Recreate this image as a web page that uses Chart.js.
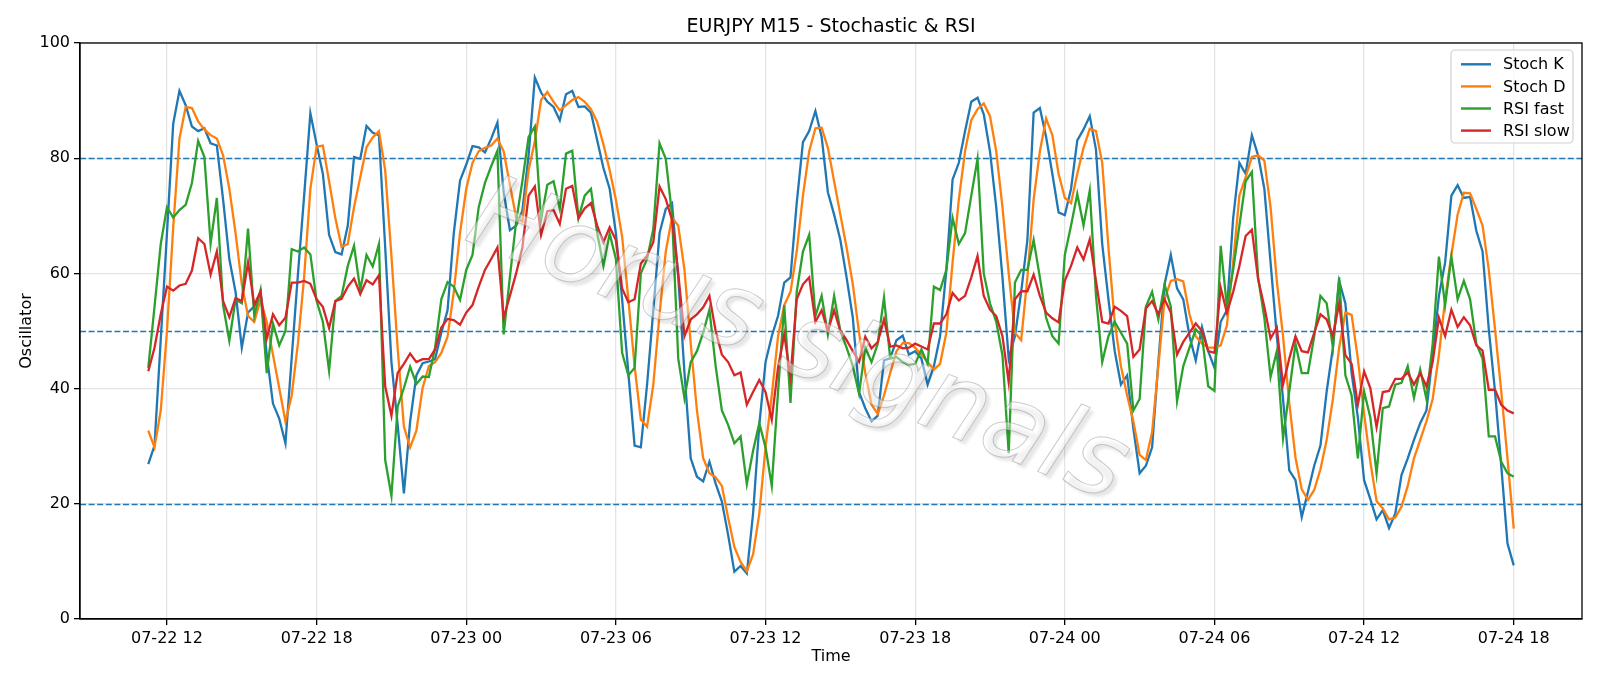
<!DOCTYPE html>
<html>
<head>
<meta charset="utf-8">
<script src="https://cdn.jsdelivr.net/npm/chart.js@4.4.0/dist/chart.umd.min.js"></script>
<style>
    html, body { margin: 0; padding: 0; background: #fff; }
    canvas { display: block; }
</style>
</head>
<body>
<canvas id="chart" width="1600" height="686"></canvas>
<script>
// M15 bars, hours counted from 07-22 00:00 (first bar 07-22 11:15)
const startHour = 11.25;
const stepHour = 0.25;

const stochK = [
    26.9, 30.1, 48.5, 67.0, 86.0, 91.7, 89.2, 85.5, 84.7, 85.2, 82.6, 82.2, 72.8, 62.5, 56.8, 47.1, 53.2, 54.3, 56.8, 45.9,
    37.4, 34.8, 30.5, 45.3, 59.8, 73.5, 87.8, 82.4, 77.3, 66.7, 63.7, 63.3, 68.3, 80.2, 79.9, 85.6, 84.4, 84.0, 64.5, 44.6,
    33.7, 21.8, 34.3, 42.3, 44.4, 44.7, 45.1, 49.7, 53.6, 67.0, 76.1, 78.9, 82.1, 81.9, 81.0, 83.4, 86.2, 74.1, 67.5, 68.3,
    70.9, 80.5, 94.0, 91.4, 89.8, 88.9, 86.6, 91.1, 91.7, 88.9, 89.0, 87.9, 83.1, 78.3, 74.7, 67.0, 55.5, 42.7, 30.1, 29.8,
    40.7, 53.6, 67.0, 71.2, 72.2, 59.4, 42.7, 27.9, 24.7, 23.9, 27.3, 23.5, 20.4, 14.6, 8.2, 9.2, 7.9, 18.3, 33.7, 44.6,
    49.1, 52.6, 58.4, 59.3, 72.2, 82.8, 84.7, 88.2, 83.7, 74.1, 70.2, 65.8, 59.3, 52.3, 39.4, 36.6, 34.3, 35.3, 44.9, 45.3,
    48.4, 49.2, 45.9, 46.5, 45.2, 40.7, 43.9, 49.1, 60.6, 76.3, 79.2, 84.7, 89.8, 90.5, 87.6, 81.2, 71.5, 59.3, 45.2, 49.1,
    56.8, 65.8, 87.9, 88.7, 83.7, 77.3, 70.6, 70.1, 74.7, 83.1, 85.0, 87.3, 81.5, 65.1, 55.5, 46.5, 40.7, 42.3, 33.0, 25.3,
    26.6, 29.8, 44.6, 58.1, 63.2, 57.4, 55.5, 49.1, 44.9, 50.7, 46.5, 43.6, 51.6, 53.6, 69.6, 79.2, 77.3, 84.0, 80.5, 74.7,
    61.9, 49.1, 38.2, 25.8, 24.1, 17.7, 22.1, 26.6, 30.1, 39.5, 47.1, 58.7, 54.8, 42.7, 35.0, 24.1, 20.8, 17.3, 18.9, 15.8,
    18.3, 25.0, 27.9, 31.1, 34.0, 36.2, 45.8, 56.1, 61.9, 73.5, 75.3, 73.1, 73.3, 67.4, 63.8, 50.3, 39.5, 26.6, 13.1, 9.3
];

const stochD = [
    32.7, 29.8, 36.2, 50.0, 68.0, 83.4, 88.9, 88.7, 86.4, 85.0, 84.0, 83.4, 80.5, 74.7, 67.0, 58.1, 52.6, 51.6, 55.5, 51.6,
    45.9, 40.1, 34.3, 38.8, 47.8, 59.4, 74.7, 82.0, 82.2, 76.0, 69.6, 64.6, 65.1, 71.5, 76.7, 81.9, 83.6, 84.7, 77.9, 63.0,
    47.0, 33.4, 29.8, 32.7, 40.1, 43.9, 44.6, 46.2, 49.0, 56.8, 67.0, 74.7, 79.2, 81.2, 81.8, 82.2, 83.4, 81.2, 75.4, 69.7,
    69.0, 77.9, 83.0, 90.1, 91.5, 89.8, 88.3, 89.2, 90.1, 90.6, 89.8, 88.5, 86.3, 82.4, 77.9, 72.8, 66.4, 55.5, 43.9, 34.6,
    33.4, 40.7, 52.9, 63.8, 69.7, 68.3, 60.6, 47.8, 36.2, 27.9, 25.3, 24.6, 23.1, 17.6, 12.5, 9.9, 8.3, 11.2, 18.3, 29.8,
    38.8, 49.0, 54.5, 56.8, 63.8, 73.5, 81.2, 85.2, 85.3, 81.8, 76.0, 70.2, 64.5, 58.1, 49.7, 42.7, 37.2, 35.6, 38.8, 42.7,
    46.5, 47.9, 47.9, 47.1, 45.9, 44.6, 43.3, 44.3, 49.7, 61.9, 72.8, 81.2, 86.6, 88.5, 89.5, 87.3, 81.2, 71.5, 60.0, 49.7,
    48.4, 59.3, 72.8, 81.2, 86.9, 84.0, 77.3, 73.1, 72.2, 77.3, 81.8, 85.1, 84.7, 79.2, 64.5, 51.6, 43.9, 38.8, 34.3, 28.5,
    27.6, 32.4, 43.9, 55.5, 58.7, 59.0, 58.6, 52.9, 49.1, 47.8, 47.1, 47.1, 47.5, 51.0, 61.9, 73.5, 76.7, 80.2, 80.5, 79.6,
    71.5, 58.7, 49.1, 37.5, 28.0, 22.5, 20.7, 22.4, 26.0, 31.1, 38.2, 47.1, 53.2, 52.8, 45.2, 35.6, 27.3, 20.5, 19.2, 17.3,
    17.6, 19.5, 23.1, 27.9, 31.1, 34.3, 38.2, 45.8, 55.5, 63.2, 70.2, 74.0, 73.9, 71.2, 68.3, 60.6, 50.3, 39.5, 27.9, 15.7
];

const rsiFast = [
    43.6, 54.2, 65.1, 71.5, 69.7, 71.0, 71.9, 75.7, 83.0, 80.2, 65.2, 73.1, 54.5, 48.3, 55.5, 54.8, 67.8, 52.6, 57.1, 42.7,
    51.3, 47.5, 50.0, 64.2, 63.8, 64.5, 63.3, 55.2, 51.6, 43.1, 55.2, 56.1, 61.3, 64.8, 57.1, 63.2, 61.2, 65.1, 27.6, 21.4,
    36.9, 40.1, 43.8, 40.8, 42.1, 42.0, 47.1, 55.5, 58.5, 57.7, 55.4, 60.6, 63.2, 71.5, 75.7, 78.6, 81.3, 49.4, 59.4, 69.0,
    76.0, 83.7, 85.5, 69.3, 75.4, 76.0, 71.2, 80.8, 81.3, 69.6, 73.5, 74.7, 67.0, 61.3, 66.9, 62.5, 46.2, 42.3, 43.6, 60.0,
    62.5, 67.7, 82.6, 79.9, 70.2, 45.2, 38.3, 44.6, 46.5, 49.7, 53.7, 43.9, 36.2, 33.7, 30.5, 31.7, 23.4, 29.2, 34.0, 29.8,
    23.1, 39.4, 54.5, 37.5, 56.8, 63.8, 66.7, 52.6, 56.1, 49.4, 56.1, 50.0, 47.1, 43.9, 39.1, 47.1, 44.6, 47.8, 55.8, 45.2,
    45.5, 44.6, 44.1, 44.3, 46.8, 44.3, 57.7, 57.1, 60.6, 69.6, 65.1, 67.0, 73.5, 79.9, 60.0, 54.8, 51.6, 45.8, 28.8, 58.4,
    60.6, 60.6, 65.8, 59.3, 52.3, 49.1, 47.8, 63.2, 68.3, 73.8, 68.3, 74.4, 56.1, 44.6, 49.1, 51.6, 49.7, 47.8, 36.2, 38.2,
    54.2, 56.8, 52.0, 58.1, 54.2, 37.8, 43.9, 47.1, 50.3, 49.1, 40.4, 39.6, 64.8, 54.2, 60.6, 68.3, 76.0, 77.6, 59.3, 52.3,
    42.0, 46.5, 31.4, 39.5, 47.8, 42.7, 42.7, 49.1, 56.1, 54.8, 47.1, 59.3, 42.3, 38.8, 27.9, 39.5, 35.0, 25.3, 36.6, 36.9,
    40.7, 41.0, 43.9, 38.4, 43.3, 38.2, 47.8, 62.9, 54.5, 62.9, 55.5, 58.7, 55.5, 47.8, 45.2, 31.7, 31.7, 27.3, 25.3, 24.7
];

const rsiSlow = [
    43.0, 47.1, 52.9, 57.7, 57.0, 57.9, 58.2, 60.5, 66.1, 65.1, 59.8, 63.8, 55.2, 52.4, 55.7, 55.2, 61.9, 54.5, 56.8, 48.7,
    52.9, 51.0, 52.3, 58.4, 58.4, 58.7, 58.2, 55.5, 54.2, 50.5, 55.2, 55.6, 57.7, 59.1, 56.4, 58.8, 58.1, 59.7, 40.4, 35.3,
    42.7, 44.3, 46.1, 44.6, 45.1, 45.1, 46.8, 50.6, 52.1, 51.9, 51.1, 53.2, 54.5, 57.7, 60.6, 62.5, 64.5, 52.3, 56.1, 60.0,
    64.5, 73.5, 75.1, 66.7, 70.8, 71.0, 68.6, 74.7, 75.2, 69.6, 71.3, 72.2, 68.3, 65.4, 68.0, 65.8, 57.4, 55.0, 55.5, 61.7,
    63.1, 65.4, 75.1, 72.9, 69.3, 60.0, 49.1, 52.0, 52.9, 54.1, 56.1, 50.0, 45.9, 44.6, 42.3, 42.8, 37.2, 39.4, 41.5, 39.4,
    34.6, 43.6, 49.4, 42.0, 55.5, 58.1, 59.3, 51.6, 53.6, 50.0, 53.6, 50.0, 48.4, 46.5, 44.7, 49.0, 47.0, 48.1, 52.0, 47.3,
    47.5, 47.0, 47.1, 47.8, 47.3, 46.8, 51.3, 51.3, 52.9, 56.6, 55.3, 56.1, 59.3, 63.0, 56.1, 53.7, 52.6, 49.1, 41.1, 55.5,
    56.9, 56.9, 59.8, 56.1, 53.2, 52.2, 51.5, 58.7, 61.3, 64.5, 62.4, 65.9, 58.7, 51.6, 51.3, 54.2, 53.5, 52.6, 45.5, 46.8,
    53.9, 55.2, 52.9, 55.5, 53.2, 45.9, 48.1, 49.7, 51.3, 50.0, 46.5, 46.2, 57.5, 53.2, 56.8, 61.3, 66.5, 67.6, 59.0, 54.2,
    48.7, 50.6, 40.7, 45.2, 49.1, 46.5, 46.3, 49.7, 52.9, 52.0, 49.1, 54.8, 45.8, 44.3, 37.2, 43.0, 40.1, 33.3, 39.4, 39.6,
    41.7, 41.7, 42.8, 40.7, 42.7, 40.4, 44.6, 52.3, 49.1, 53.7, 50.7, 52.4, 51.0, 47.5, 46.6, 39.8, 39.8, 37.2, 36.2, 35.7
];

const tickHours = [12, 18, 24, 30, 36, 42, 48, 54, 60, 66];
const tickLabels = ['07-22 12', '07-22 18', '07-23 00', '07-23 06', '07-23 12',
                    '07-23 18', '07-24 00', '07-24 06', '07-24 12', '07-24 18'];
const levels = [80, 50, 20];

const seriesNames = ['Stoch K', 'Stoch D', 'RSI fast', 'RSI slow'];
const seriesColors = ['#1f77b4', '#ff7f0e', '#2ca02c', '#d62728'];
const seriesValues = [stochK, stochD, rsiFast, rsiSlow];

const FONT = '"DejaVu Sans", sans-serif';

const times = stochK.map((_, i) => startHour + i * stepHour);
const span = times[times.length - 1] - times[0];
const xMin = times[0] - span * 0.05;
const xMax = times[times.length - 1] + span * 0.05;

// Dashed overbought / mid / oversold lines
const levelLines = {
    id: 'levelLines',
    beforeDatasetsDraw(chart) {
        const { ctx, chartArea, scales } = chart;
        ctx.save();
        ctx.strokeStyle = '#1f77b4';
        ctx.lineWidth = 1.5;
        ctx.setLineDash([6, 2.6]);
        levels.forEach(v => {
            const y = Math.round(scales.y.getPixelForValue(v)) + 0.5;
            ctx.beginPath();
            ctx.moveTo(chartArea.left, y);
            ctx.lineTo(chartArea.right, y);
            ctx.stroke();
        });
        ctx.restore();
    }
};

// Watermark, frame, title and legend
const decorations = {
    id: 'decorations',
    afterDatasetsDraw(chart) {
        const { ctx, chartArea } = chart;

        // watermark
        ctx.save();
        ctx.translate(797, 345);
        ctx.rotate(22 * Math.PI / 180);
        ctx.font = `oblique 200 104px ${FONT}`;
        ctx.textAlign = 'center';
        ctx.textBaseline = 'middle';
        ctx.shadowColor = 'rgba(0,0,0,0.22)';
        ctx.shadowOffsetX = 4;
        ctx.shadowOffsetY = 4;
        ctx.shadowBlur = 3;
        ctx.fillStyle = 'rgba(255,255,255,0.45)';
        ctx.fillText('Horus signals', 0, 0);
        ctx.shadowColor = 'transparent';
        ctx.strokeStyle = 'rgba(140,140,140,0.45)';
        ctx.lineWidth = 1;
        ctx.strokeText('Horus signals', 0, 0);
        ctx.restore();

        // frame
        ctx.save();
        ctx.strokeStyle = '#000';
        ctx.lineWidth = 1.3;
        ctx.strokeRect(chartArea.left, chartArea.top, chartArea.right - chartArea.left, chartArea.bottom - chartArea.top);
        ctx.restore();

        // title
        ctx.save();
        ctx.fillStyle = '#000';
        ctx.font = `19px ${FONT}`;
        ctx.textAlign = 'center';
        ctx.textBaseline = 'middle';
        ctx.fillText('EURJPY M15 - Stochastic & RSI', (chartArea.left + chartArea.right) / 2, 27);
        ctx.restore();

        // legend
        const w = 122, h = 93;
        const bx = chartArea.right - 9 - w, by = chartArea.top + 7;
        ctx.save();
        ctx.beginPath();
        ctx.roundRect(bx, by, w, h, 4);
        ctx.fillStyle = 'rgba(255,255,255,0.8)';
        ctx.fill();
        ctx.strokeStyle = '#d0d0d0';
        ctx.lineWidth = 1.2;
        ctx.stroke();
        ctx.font = `16px ${FONT}`;
        ctx.textBaseline = 'middle';
        ctx.fillStyle = '#000';
        seriesNames.forEach((name, k) => {
            const y = by + 14.3 + k * 22.1;
            ctx.strokeStyle = seriesColors[k];
            ctx.lineWidth = 2.4;
            ctx.beginPath();
            ctx.moveTo(bx + 10, y);
            ctx.lineTo(bx + 40, y);
            ctx.stroke();
            ctx.fillText(name, bx + 52, y + 1);
        });
        ctx.restore();
    }
};

const gridStyle = { color: '#e4e4e4', lineWidth: 1.3, tickLength: 6, tickColor: '#000', tickWidth: 1.3 };

new Chart(document.getElementById('chart'), {
    type: 'line',
    data: {
        datasets: seriesValues.map((vals, k) => ({
            label: seriesNames[k],
            data: vals.map((v, i) => ({ x: times[i], y: v })),
            borderColor: seriesColors[k],
            backgroundColor: seriesColors[k],
            borderWidth: 2.3,
            pointRadius: 0,
            tension: 0,
            fill: false,
            order: 4 - k
        }))
    },
    options: {
        responsive: false,
        animation: false,
        devicePixelRatio: 1,
        layout: { padding: { left: 0, right: 18, top: 43, bottom: 0 } },
        plugins: {
            legend: { display: false },
            tooltip: { enabled: false },
            title: { display: false }
        },
        scales: {
            x: {
                type: 'linear',
                min: xMin,
                max: xMax,
                afterFit: s => { s.height = 67; },
                afterBuildTicks: s => { s.ticks = tickHours.map(v => ({ value: v })); },
                ticks: {
                    autoSkip: false,
                    maxRotation: 0,
                    padding: 4,
                    color: '#000',
                    font: { family: FONT, size: 16 },
                    callback: v => tickLabels[tickHours.indexOf(v)] ?? ''
                },
                grid: gridStyle,
                border: { color: '#000', width: 1.3 },
                title: {
                    display: true, text: 'Time', color: '#000',
                    font: { family: FONT, size: 16 },
                    padding: { top: 0, bottom: 20 }
                }
            },
            y: {
                min: 0,
                max: 100,
                afterFit: s => { s.width = 80; },
                ticks: {
                    stepSize: 20,
                    padding: 4,
                    color: '#000',
                    font: { family: FONT, size: 16 }
                },
                grid: gridStyle,
                border: { color: '#000', width: 1.3 },
                title: {
                    display: true, text: 'Oscillator', color: '#000',
                    font: { family: FONT, size: 16 },
                    padding: { top: 17, bottom: 0 }
                }
            }
        }
    },
    plugins: [levelLines, decorations]
});
</script>
</body>
</html>
